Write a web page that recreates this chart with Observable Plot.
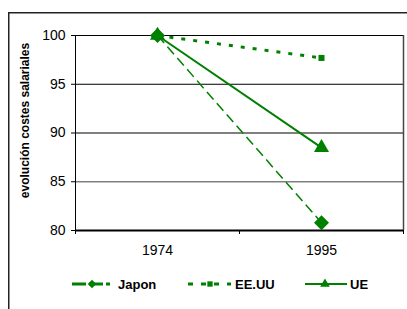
<!DOCTYPE html>
<html>
<head>
<meta charset="utf-8">
<script src="https://cdn.jsdelivr.net/npm/d3@7"></script>
<script src="https://cdn.jsdelivr.net/npm/@observablehq/plot@0.6"></script>
<style>
  html, body { margin: 0; padding: 0; background: #fff; }
  #wrap { position: relative; width: 407px; height: 309px; overflow: hidden; font-family: Arial, "Liberation Sans", sans-serif; }
  #chart { position: absolute; left: 0; top: 0; }
  #chart svg { background: transparent !important; }
  #legend { position: absolute; left: 0; top: 270px; }
  #frame { position: absolute; left: 0; top: 0; z-index: 5; pointer-events: none; }
</style>
</head>
<body>
<div id="wrap">
  <div id="chart"></div>
  <div id="legend"></div>
  <svg id="frame" width="407" height="309">
    <path d="M8.75,309 V12.75 H407" fill="none" stroke="#222" stroke-width="1.5"/>
  </svg>
</div>
<script>
const years = ["1974", "1995"];
const seriesNames = ["Japon", "EE.UU", "UE"];
const japon = [100, 80.8];
const eeuu = [100, 97.7];
const ue = [100, 88.5];
const yTicks = [80, 85, 90, 95, 100];
const yLabel = "evolución costes salariales";

const green = "#008000";
const styles = {
  "Japon": {dash: "10,5", width: 1.5, symbol: "square", rotate: 45, r: 6.0, legR: 3.4, legDash: "14,3", legWidth: 3},
  "EE.UU": {dash: "4,8", width: 3, symbol: "square", rotate: 0, r: 3.4, legR: 3.0, legDash: "5,8", legWidth: 3},
  "UE": {dash: null, width: 2, symbol: "triangle", rotate: 0, r: 5.6, legR: 3.6, legDash: null, legWidth: 2}
};

const values = [japon, eeuu, ue];
const data = seriesNames.flatMap((s, k) =>
  values[k].map((v, i) => ({series: s, year: years[i], xi: i + 0.5, value: v}))
);

const font = "Arial, 'Liberation Sans', sans-serif";

const marks = [
  Plot.ruleY([100, 95, 90], {stroke: "#000", strokeWidth: 1}),
  Plot.ruleY([85], {stroke: "#808080", strokeWidth: 1.5}),
  Plot.ruleX([2], {stroke: "#444", strokeWidth: 1.5}),
  Plot.ruleX([0], {stroke: "#000", strokeWidth: 1}),
  Plot.axisY({ticks: yTicks, tickSize: 4, tickPadding: 6, fontSize: 14, label: null, tickFormat: d => String(d)}),
  Plot.axisX({ticks: [0, 1, 2], tickSize: 4, tickFormat: () => "", label: null}),
  Plot.axisX({ticks: [0.5, 1.5], tickSize: 0, tickPadding: 15, fontSize: 14, label: null, tickFormat: d => years[Math.round(d - 0.5)]}),
  Plot.ruleY([80], {stroke: "#000", strokeWidth: 2}),
  Plot.text([yLabel], {frameAnchor: "left", textAnchor: "middle", rotate: -90, dx: -50, dy: -12.5, fontSize: 12, fontWeight: "bold", fill: "#000", text: d => d})
];

for (const s of seriesNames) {
  const st = styles[s];
  const d = data.filter(e => e.series === s);
  marks.push(Plot.line(d, {x: "xi", y: "value", stroke: green, strokeWidth: st.width, strokeDasharray: st.dash || undefined, strokeLinecap: "butt"}));
}
for (const s of seriesNames) {
  const st = styles[s];
  const d = data.filter(e => e.series === s);
  marks.push(Plot.dot(d, {x: "xi", y: "value", symbol: () => st.symbol, r: st.r, rotate: st.rotate, fill: green, stroke: "none"}));
}

const chart = Plot.plot({
  width: 407,
  height: 262,
  marginLeft: 75,
  marginRight: 4,
  marginTop: 35,
  marginBottom: 32,
  style: {fontFamily: font, fontSize: "14px", background: "transparent", color: "#000", overflow: "visible"},
  x: {type: "linear", domain: [0, 2], axis: null},
  y: {domain: [80, 100], axis: null},
  symbol: {type: "identity"},
  marks
});
document.getElementById("chart").appendChild(chart);

// Legend
const legendItems = [
  {name: "Japon", x0: 72, x1: 110, mx: 92, tx: 118},
  {name: "EE.UU", x0: 188, x1: 231, mx: 210, tx: 235},
  {name: "UE", x0: 305, x1: 347, mx: 325, tx: 350}
];
const lsvg = d3.create("svg").attr("width", 407).attr("height", 30);
const cy = 14;
for (const it of legendItems) {
  const st = styles[it.name];
  lsvg.append("line").attr("x1", it.x0).attr("x2", it.x1).attr("y1", cy).attr("y2", cy)
    .attr("stroke", green).attr("stroke-width", st.legWidth)
    .attr("stroke-dasharray", st.legDash);
  const sym = st.symbol === "triangle" ? d3.symbolTriangle : d3.symbolSquare;
  lsvg.append("path").attr("d", d3.symbol(sym, Math.PI * st.legR * st.legR)())
    .attr("transform", `translate(${it.mx},${cy}) rotate(${st.rotate})`)
    .attr("fill", green);
  lsvg.append("text").attr("x", it.tx).attr("y", cy).attr("dy", "0.36em")
    .attr("font-family", font).attr("font-size", 13).attr("font-weight", "bold").attr("fill", "#000")
    .text(it.name);
}
document.getElementById("legend").appendChild(lsvg.node());
</script>
</body>
</html>
